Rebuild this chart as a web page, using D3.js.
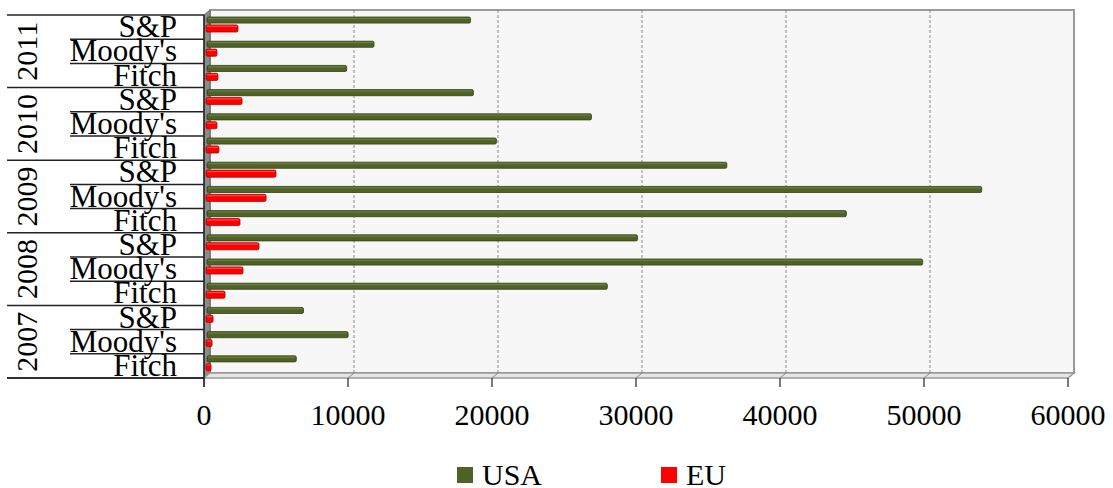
<!DOCTYPE html>
<html>
<head>
<meta charset="utf-8">
<script src="https://cdn.jsdelivr.net/npm/d3@7"></script>
<style>
  body { margin: 0; background: #fff; }
  text { font-family: "Liberation Serif", "Times New Roman", serif; fill: #000; }
</style>
</head>
<body>
<div id="chart"></div>
<script>
// data, bottom to top as in the chart
const years = ["2007", "2008", "2009", "2010", "2011"];
const agencies = ["Fitch", "Moody's", "S&P"];
const usaValues = [6200, 9800, 6700, 27800, 49700, 29900, 44400, 53800, 36100, 20100, 26700, 18500, 9700, 11600, 18300];
const euValues = [350, 420, 490, 1320, 2570, 3680, 2360, 4170, 4860, 900, 760, 2500, 830, 760, 2220];
const seriesNames = ["USA", "EU"];
const xTicks = [0, 10000, 20000, 30000, 40000, 50000, 60000];

const width = 1113;
const height = 488;
const colors = { USA: "#4f6228", EU: "#ff0000" };
const edges = { USA: "#334016", EU: "#b00000" };

// depth offset of the 3d box
const dx = 6, dy = -5;

const svg = d3.select("#chart").append("svg")
    .attr("width", width)
    .attr("height", height);

// rows (year + agency)
const rows = [];
years.forEach((y, yi) => agencies.forEach((a, ai) => {
    const i = yi * agencies.length + ai;
    rows.push({ key: y + "-" + a, year: y, agency: a, USA: usaValues[i], EU: euValues[i] });
}));

const plotTop = 15, plotBottom = 378;

const x = d3.scaleLinear().domain([0, 60000]).range([204, 1068]);
const yRow = d3.scaleBand()
    .domain(rows.map(r => r.key).reverse())
    .range([plotTop, plotBottom]);
const ySub = d3.scaleBand()
    .domain(seriesNames)
    .range([2, 17])
    .paddingInner(0.1);

// back wall
svg.append("rect")
    .attr("x", x(0) + dx).attr("y", plotTop + dy)
    .attr("width", x(60000) - x(0)).attr("height", plotBottom - plotTop)
    .attr("fill", "#f7f7f7")
    .attr("stroke", "#9a9a9a").attr("stroke-width", 2);

// left side wall
svg.append("polygon")
    .attr("points", [[x(0), plotTop], [x(0) + dx, plotTop + dy], [x(0) + dx, plotBottom + dy], [x(0), plotBottom]].join(" "))
    .attr("fill", "#8c8c8c").attr("stroke", "#666");

// floor
svg.append("polygon")
    .attr("points", [[x(0), plotBottom], [x(0) + dx, plotBottom + dy], [x(60000) + dx, plotBottom + dy], [x(60000), plotBottom]].join(" "))
    .attr("fill", "#e6e6e6").attr("stroke", "#9a9a9a").attr("stroke-width", 1.5);

// gridlines on back wall
svg.selectAll(".grid")
    .data(xTicks.filter(d => d > 0 && d < 60000))
    .join("line")
    .attr("class", "grid")
    .attr("x1", d => x(d) + dx).attr("x2", d => x(d) + dx)
    .attr("y1", plotTop + dy).attr("y2", plotBottom + dy)
    .attr("stroke", "#8a8a8a").attr("stroke-dasharray", "3,2");

svg.selectAll(".floorline")
    .data(xTicks.filter(d => d > 0 && d < 60000))
    .join("line")
    .attr("class", "floorline")
    .attr("x1", d => x(d)).attr("x2", d => x(d) + dx)
    .attr("y1", plotBottom).attr("y2", plotBottom + dy)
    .attr("stroke", "#8a8a8a");

// bars
const rowG = svg.selectAll(".row")
    .data(rows)
    .join("g")
    .attr("class", "row")
    .attr("transform", d => `translate(0,${yRow(d.key)})`);

seriesNames.forEach(s => {
    const off = s === "USA" ? 3 : 2;
    const h = s === "USA" ? ySub.bandwidth() - 1 : ySub.bandwidth();
    rowG.append("rect")
        .attr("x", x(0) + off)
        .attr("y", ySub(s))
        .attr("width", d => x(d[s]) - x(0))
        .attr("height", h)
        .attr("rx", 1.5)
        .attr("fill", colors[s])
        .attr("stroke", edges[s])
        .attr("stroke-width", 0.8);
    // lighter top strip for a bit of volume
    rowG.append("rect")
        .attr("x", x(0) + off + 1)
        .attr("y", ySub(s) + 0.8)
        .attr("width", d => Math.max(0, x(d[s]) - x(0) - 2))
        .attr("height", 1.2)
        .attr("fill", s === "USA" ? "#6b7f3c" : "#ff4a4a");
});

// value axis
svg.append("line")
    .attr("x1", 7).attr("x2", x(0))
    .attr("y1", plotBottom).attr("y2", plotBottom)
    .attr("stroke", "#222").attr("stroke-width", 1.5);

svg.append("line")
    .attr("x1", x(0)).attr("x2", x(0))
    .attr("y1", plotTop).attr("y2", plotBottom + 9)
    .attr("stroke", "#222").attr("stroke-width", 1.5);

svg.selectAll(".tick")
    .data(xTicks)
    .join("line")
    .attr("class", "tick")
    .attr("x1", d => x(d)).attr("x2", d => x(d))
    .attr("y1", plotBottom).attr("y2", plotBottom + 9)
    .attr("stroke", "#333").attr("stroke-width", 1.3);

svg.selectAll(".ticklabel")
    .data(xTicks)
    .join("text")
    .attr("class", "ticklabel")
    .attr("x", d => x(d))
    .attr("y", 425)
    .attr("text-anchor", "middle")
    .style("font-size", "30px")
    .text(d => d);

// category lines: short between agencies, long between years
const rowKeys = yRow.domain();
const lineYs = d3.range(rowKeys.length + 1).map(i => plotTop + i * yRow.step());
svg.selectAll(".catline")
    .data(lineYs)
    .join("line")
    .attr("class", "catline")
    .attr("x1", (d, i) => i % agencies.length === 0 ? 7 : 70)
    .attr("x2", x(0))
    .attr("y1", d => d).attr("y2", d => d)
    .attr("stroke", "#222").attr("stroke-width", 1.5);

svg.selectAll(".agency")
    .data(rows)
    .join("text")
    .attr("class", "agency")
    .attr("x", 177)
    .attr("y", d => yRow(d.key) + yRow.bandwidth() - 2)
    .attr("text-anchor", "end")
    .style("font-size", "31px")
    .text(d => d.agency);

svg.selectAll(".year")
    .data(years)
    .join("text")
    .attr("class", "year")
    .attr("transform", d => {
        const y0 = yRow(d + "-" + agencies[2]);
        const y1 = yRow(d + "-" + agencies[0]) + yRow.bandwidth();
        return `translate(26,${(y0 + y1) / 2}) rotate(-90)`;
    })
    .attr("text-anchor", "middle")
    .attr("dominant-baseline", "central")
    .style("font-size", "30px")
    .text(d => d);

// legend
const legendX = { USA: 457, EU: 661 };
const legend = svg.selectAll(".legend")
    .data(seriesNames)
    .join("g")
    .attr("class", "legend")
    .attr("transform", d => `translate(${legendX[d]},467)`);
legend.append("rect")
    .attr("width", 16).attr("height", 16)
    .attr("fill", d => colors[d]);
legend.append("text")
    .attr("x", 25).attr("y", 18)
    .style("font-size", "30px")
    .text(d => d);
</script>
</body>
</html>
